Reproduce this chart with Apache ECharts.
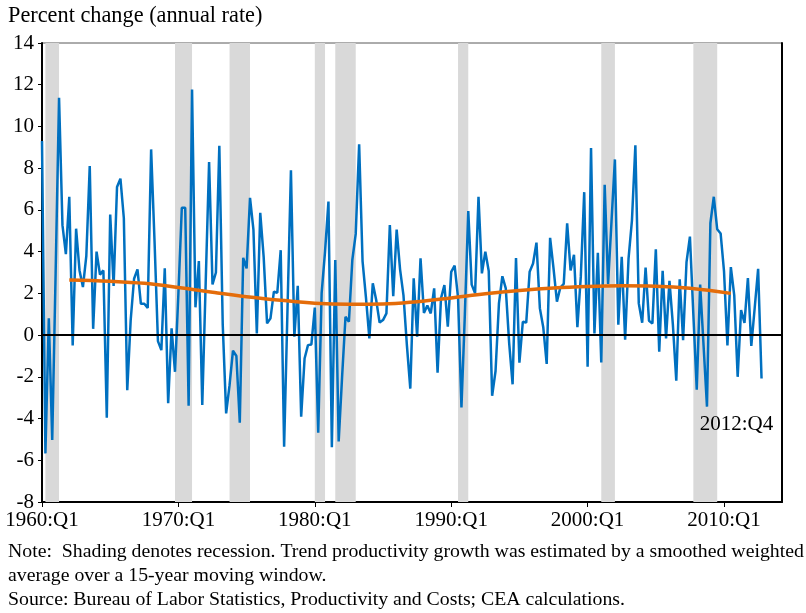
<!DOCTYPE html>
<html>
<head>
<meta charset="utf-8">
<script src="https://cdn.jsdelivr.net/npm/echarts@6/dist/echarts.min.js"></script>
<style>
  html, body { margin: 0; padding: 0; background: #fff; }
  #chart { width: 806px; height: 613px; }
</style>
</head>
<body>
<div id="chart"></div>
<script>
// quarterly axis, 1960:Q1 .. 2014:Q2 (axis runs a little past the data)
const quarters = []
for (let y = 1960; y <= 2014; y++) {
  for (let q = 1; q <= 4; q++) quarters.push(y + ':Q' + q)
}
quarters.length = 218

// productivity growth, 1960:Q1 .. 2012:Q4, percent change at annual rate
const productivity = [
  9.3, -5.67, 0.8, -5.03, 3.0, 11.37, 5.27, 3.88, 6.63, -0.5,
  5.1, 3.1, 2.3, 3.8, 8.1, 0.3, 4.0, 2.9, 3.1, -3.96,
  5.78, 2.36, 7.1, 7.5, 5.6, -2.64, 0.7, 2.7, 3.15, 1.5,
  1.5, 1.3, 8.9, 4.5, -0.29, -0.72, 3.2, -3.27, 0.32, -1.76,
  2.0, 6.1, 6.1, -3.39, 11.77, 1.33, 3.55, -3.35, 2.5, 8.3,
  2.43, 3.0, 9.07, 0.5, -3.75, -2.4, -0.75, -1.0, -4.2, 3.7,
  3.2, 6.58, 5.06, 0.08, 5.86, 3.75, 0.56, 0.8, 2.08, 2.03,
  4.07, -5.35, 1.3, 7.9, -0.08, 2.36, -3.91, -1.12, -0.48, -0.45,
  1.32, -4.68, 2.0, 4.0, 6.4, -5.38, 3.6, -5.1, -2.0, 0.88,
  0.64, 3.6, 4.85, 9.14, 3.55, 1.8, -0.16, 2.48, 1.68, 0.6,
  0.72, 1.04, 5.27, 1.86, 5.06, 3.15, 1.9, -0.48, -2.57, 2.72,
  -0.08, 3.68, 1.06, 1.42, 1.04, 2.24, -1.8, 1.76, 2.4, 0.4,
  3.03, 3.33, 1.8, -3.47, 1.0, 5.94, 2.42, 2.0, 6.63, 2.96,
  4.0, 3.07, -2.91, -1.72, 1.52, 2.82, 2.24, -0.4, -2.36, 3.69,
  -1.32, 0.64, 0.6, 3.04, 3.43, 4.43, 1.28, 0.36, -1.38, 4.66,
  3.2, 1.6, 2.28, 2.45, 5.36, 3.1, 3.85, 0.38, 2.8, 6.85,
  -1.52, 8.97, 0.08, 3.95, -1.31, 7.2, 2.45, 5.43, 8.42, 0.5,
  3.75, -0.22, 3.67, 5.5, 9.1, 1.52, 0.59, 3.24, 0.69, 0.56,
  4.11, -0.8, 3.08, -0.16, 2.6, 0.5, -2.19, 2.67, -0.24, 3.5,
  4.72, 1.0, -2.62, 2.42, -0.5, -3.43, 5.36, 6.63, 5.07, 4.87,
  3.05, -0.5, 3.26, 1.9, -2.0, 1.2, 0.58, 2.73, -0.52, 1.31,
  3.18, -2.08
]

// trend productivity growth (smoothed), read at selected quarters
const trendQuarters = [
  '1962:Q1', '1965:Q1', '1967:Q3', '1970:Q1', '1972:Q3', '1975:Q1', '1977:Q3',
  '1980:Q1', '1982:Q3', '1985:Q1', '1987:Q3', '1990:Q1', '1992:Q3', '1995:Q1',
  '1997:Q3', '2000:Q1', '2002:Q3', '2005:Q1', '2007:Q3', '2010:Q3'
]
const trendValues = [
  2.64, 2.58, 2.48, 2.28, 2.05, 1.84, 1.67,
  1.53, 1.48, 1.49, 1.6, 1.78, 1.98, 2.14,
  2.26, 2.33, 2.36, 2.34, 2.24, 2.0
]

// recessions: first and last quarter
const recessionStart = ['1960:Q2', '1969:Q4', '1973:Q4', '1980:Q1', '1981:Q3', '1990:Q3', '2001:Q1', '2007:Q4']
const recessionEnd = ['1961:Q1', '1970:Q4', '1975:Q1', '1980:Q3', '1982:Q4', '1991:Q1', '2001:Q4', '2009:Q2']

const yTicks = [-8, -6, -4, -2, 0, 2, 4, 6, 8, 10, 12, 14]

const serif = 'Liberation Serif'
const chart = echarts.init(document.getElementById('chart'))

const shading = recessionStart.map((s, i) => {
  const after = quarters[quarters.indexOf(recessionEnd[i]) + 1]
  return [{ xAxis: s }, { xAxis: after }]
})

const option = {
  animation: false,
  backgroundColor: '#fff',
  textStyle: { fontFamily: serif },
  grid: {
    left: 42,
    right: 24,
    top: 43,
    bottom: 111,
    show: true,
    borderColor: '#595959',
    borderWidth: 1
  },
  xAxis: {
    type: 'category',
    data: quarters,
    boundaryGap: false,
    axisLine: { onZero: false, lineStyle: { color: '#000', width: 2 } },
    axisTick: {
      interval: (idx) => idx % 40 === 0,
      length: 5,
      lineStyle: { color: '#000', width: 1 }
    },
    axisLabel: {
      interval: (idx) => idx % 40 === 0,
      color: '#000',
      fontFamily: serif,
      fontSize: 21,
      margin: 8
    },
    splitLine: { show: false }
  },
  yAxis: [{
    type: 'value',
    min: yTicks[0],
    max: yTicks[yTicks.length - 1],
    interval: 2,
    axisLine: { show: true, lineStyle: { color: '#000', width: 2 } },
    axisTick: { show: true, length: 4, lineStyle: { color: '#000' } },
    axisLabel: { color: '#000', fontFamily: serif, fontSize: 21, margin: 8 },
    splitLine: { show: false }
  }, {
    type: 'value',
    position: 'right',
    min: yTicks[0],
    max: yTicks[yTicks.length - 1],
    interval: 2,
    axisLine: { show: true, lineStyle: { color: '#000', width: 2 } },
    axisTick: { show: false },
    axisLabel: { show: false },
    splitLine: { show: false }
  }],
  graphic: [
    { type: 'text', left: 8, top: 5, style: { text: 'Percent change (annual rate)', fontFamily: serif, fontSize: 22.3, fill: '#000' } },
    { type: 'text', left: 8, top: 542, style: { text: 'Note:  Shading denotes recession. Trend productivity growth was estimated by a smoothed weighted', fontFamily: serif, fontSize: 19.8, fill: '#000' } },
    { type: 'text', left: 8, top: 566, style: { text: 'average over a 15-year moving window.', fontFamily: serif, fontSize: 19.8, fill: '#000' } },
    { type: 'text', left: 8, top: 590, style: { text: 'Source: Bureau of Labor Statistics, Productivity and Costs; CEA calculations.', fontFamily: serif, fontSize: 19.8, fill: '#000' } }
  ],
  series: [
    {
      name: 'Recessions',
      type: 'line',
      data: [],
      z: 1,
      silent: true,
      markArea: {
        silent: true,
        itemStyle: { color: '#d9d9d9' },
        data: shading
      },
      markLine: {
        silent: true,
        symbol: 'none',
        label: { show: false },
        lineStyle: { color: '#000', width: 2, type: 'solid' },
        data: [{ yAxis: 0 }]
      }
    },
    {
      name: 'Productivity growth',
      type: 'line',
      data: productivity,
      z: 3,
      showSymbol: false,
      lineStyle: { color: '#0070c0', width: 2.5 },
      markPoint: {
        symbol: 'circle',
        symbolSize: 0,
        label: {
          show: true,
          formatter: '2012:Q4',
          color: '#000',
          fontFamily: serif,
          fontSize: 21,
          offset: [-25, 46]
        },
        data: [{ coord: ['2012:Q4', productivity[productivity.length - 1]] }]
      }
    },
    {
      name: 'Trend',
      type: 'line',
      data: trendQuarters.map((q, i) => [q, trendValues[i]]),
      z: 4,
      smooth: 0.4,
      showSymbol: false,
      lineStyle: { color: '#e46c0a', width: 3.5 }
    }
  ]
}

chart.setOption(option)
</script>
</body>
</html>
